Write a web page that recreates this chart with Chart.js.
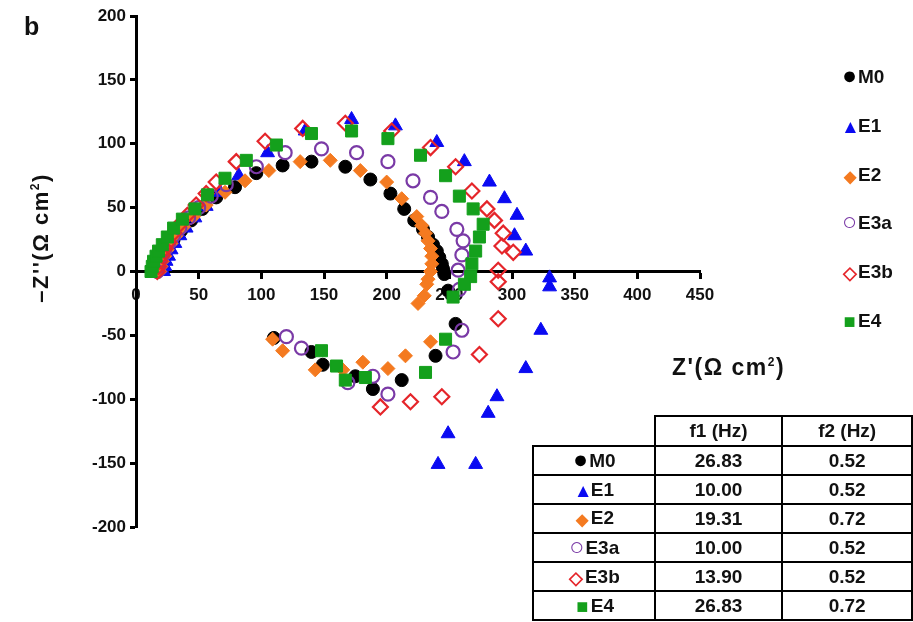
<!DOCTYPE html>
<html>
<head>
<meta charset="utf-8">
<script src="https://cdn.jsdelivr.net/npm/chart.js@4.4.1/dist/chart.umd.min.js"></script>
<style>
  body { margin: 0; background: #fff; font-family: "Liberation Sans", Arial, sans-serif; }
  #wrap { position: relative; width: 913px; height: 622px; overflow: hidden; }
  #wrap canvas { position: absolute; left: 0; top: 0; }
  .txt { position: absolute; font-weight: bold; color: #111; white-space: nowrap; }
  #panel { left: 24px; top: 12px; font-size: 25px; }
  #ytitle { left: 41px; top: 238px; font-size: 22px; letter-spacing: 1.5px; transform: translate(-50%, -50%) rotate(-90deg); }
  #xtitle { left: 672px; top: 354px; font-size: 23px; letter-spacing: 1.5px; }
  sup { font-size: 12px; vertical-align: 9px; }
  #legend { position: absolute; left: 841px; top: 64px; }
  #legend div { height: 48.8px; line-height: 26px; font-size: 19px; font-weight: bold; color: #111; }
  .mk { display: inline-block; width: 17px; text-align: center; line-height: 20px; vertical-align: -1px; }
  #freq { position: absolute; left: 532px; top: 415px; border-collapse: collapse; font-size: 19px; font-weight: bold; color: #111; }
  #freq td { border: 2px solid #000; text-align: center; height: 27px; padding: 0; }
  #freq td.c0 { width: 120px; }
  #freq td.c1 { width: 126px; }
  #freq td.c2 { width: 128px; }
  #freq tr.head td { height: 28px; }
  #freq tr.head td.blank { border-top: none; border-left: none; }
</style>
</head>
<body>
<div id="wrap">
  <canvas id="chart" width="913" height="622"></canvas>
  <div class="txt" id="panel">b</div>
  <div class="txt" id="ytitle">–Z''(Ω cm<sup>2</sup>)</div>
  <div class="txt" id="xtitle">Z'(Ω cm<sup>2</sup>)</div>
  <div id="legend"></div>
  <table id="freq"></table>
</div>
<script>
// Nyquist data: [Z', -Z''] in ohm cm2
const M0 = [[17,0],[18,3],[19,6],[21,10],[23,14],[26,19],[30,25],[36,32],[44,40],[53,49],[64,58],[79,66],[96,77],[117,83],[140,86],[167,82],[187,72],[203,61],[214,49],[222,40],[229,33],[233,27],[237,21],[240,16],[242,11],[244,6],[245,2],[246,-2],[249,-15],[255,-41],[239,-66],[212,-85],[189,-92],[175,-82],[149,-73],[140,-63],[110,-52]];
const E1 = [[22,0],[23,4],[24,8],[26,12],[28,17],[31,22],[35,28],[40,34],[47,42],[56,51],[67,62],[82,75],[105,93],[135,110],[172,119],[207,114],[240,101],[262,86],[282,70],[294,57],[304,44],[302,28],[311,16],[330,-5],[330,-12],[323,-46],[311,-76],[288,-98],[281,-111],[249,-127],[241,-151],[271,-151]];
const E2 = [[19,0],[20,4],[21,8],[23,12],[25,17],[28,22],[32,28],[38,35],[46,43],[56,52],[71,62],[87,71],[106,79],[131,86],[155,87],[179,79],[200,70],[212,57],[224,43],[228,36],[231,30],[233,24],[235,18],[236,12],[236,6],[235,0],[233,-6],[232,-10],[230,-19],[225,-25],[235,-55],[215,-66],[201,-76],[181,-71],[165,-77],[143,-77],[117,-62],[109,-53]];
const E3a = [[17,0],[18,4],[19,8],[21,12],[23,17],[26,22],[30,28],[35,34],[42,42],[50,50],[60,59],[72,68],[96,82],[119,93],[148,96],[176,93],[201,86],[221,71],[235,58],[244,47],[256,33],[261,24],[260,13],[257,1],[258,-14],[260,-46],[253,-63],[201,-96],[189,-82],[169,-87],[132,-60],[120,-51]];
const E3b = [[17,0],[18,4],[19,8],[21,13],[23,18],[26,23],[30,30],[35,37],[41,44],[48,52],[56,61],[64,70],[80,86],[103,102],[133,112],[167,116],[204,110],[235,97],[255,82],[268,63],[280,49],[286,40],[293,30],[292,20],[301,15],[289,1],[289,-8],[289,-37],[274,-65],[244,-98],[219,-102],[195,-106]];
const E4 = [[12,0],[13,4],[14,8],[16,12],[18,16],[21,21],[25,27],[30,34],[37,41],[47,49],[57,60],[71,73],[88,87],[112,99],[140,108],[172,110],[201,104],[227,91],[247,75],[258,59],[269,49],[277,37],[274,27],[271,16],[268,6],[267,-4],[262,-10],[253,-20],[247,-53],[231,-79],[183,-83],[167,-85],[160,-74],[148,-62]];

const seriesNames = ['M0', 'E1', 'E2', 'E3a', 'E3b', 'E4'];
const f1Hz = ['26.83', '10.00', '19.31', '10.00', '13.90', '26.83'];
const f2Hz = ['0.52', '0.52', '0.72', '0.52', '0.52', '0.72'];

const xMin = 0, xMax = 450, xStep = 50;
const yMin = -200, yMax = 200, yStep = 50;

// marker look per series (gs = glyph font size for legend/table)
const looks = [
  { data: M0,  style: 'circle',   r: 6.5, fill: '#000000',     line: '#000000', w: 1,   glyph: '●', gs: 25, color: '#000' },
  { data: E1,  style: 'triangle', r: 8,   fill: '#0a0af2',     line: '#0a0af2', w: 1,   glyph: '▲', gs: 19, color: '#0a0af2' },
  { data: E2,  style: 'rectRot',  r: 7,   fill: '#f47a20',     line: '#f47a20', w: 1,   glyph: '◆', gs: 16, color: '#f47a20' },
  { data: E3a, style: 'circle',   r: 6.5, fill: 'rgba(0,0,0,0)', line: '#7a3aa6', w: 2.2, glyph: '○', gs: 25, color: '#7a3aa6' },
  { data: E3b, style: 'rectRot',  r: 7.5, fill: 'rgba(0,0,0,0)', line: '#e5252a', w: 2.2, glyph: '◇', gs: 18, color: '#e5252a' },
  { data: E4,  style: 'rect',     r: 8.5, fill: '#14a01c',     line: '#14a01c', w: 1,   glyph: '■', gs: 20, color: '#14a01c' },
];

const datasets = looks.map((l, i) => ({
  label: seriesNames[i],
  data: l.data.map(p => ({ x: p[0], y: p[1] })),
  pointStyle: l.style,
  pointRadius: l.r,
  backgroundColor: l.fill,
  borderColor: l.line,
  borderWidth: l.w,
  showLine: false,
  order: looks.length - i,   // last series on top, like Excel
}));

const tickFont = { family: '"Liberation Sans", Arial, sans-serif', size: 17, weight: 'bold' };

new Chart(document.getElementById('chart'), {
  type: 'scatter',
  data: { datasets },
  options: {
    responsive: false,
    animation: false,
    layout: { padding: { left: 36, top: 16, right: 213, bottom: 95 } },
    plugins: { legend: { display: false }, tooltip: { enabled: false } },
    scales: {
      x: {
        type: 'linear',
        position: { y: 0 },
        min: xMin, max: xMax,
        ticks: { stepSize: xStep, color: '#111', font: tickFont, padding: 8, maxRotation: 0 },
        grid: { drawOnChartArea: false, drawTicks: true, tickLength: 6, tickWidth: 3, tickColor: '#000' },
        border: { display: true, color: '#000', width: 3 },
      },
      y: {
        type: 'linear',
        position: 'left',
        min: yMin, max: yMax,
        afterFit(s) { s.width = 100; },
        ticks: { stepSize: yStep, color: '#111', font: tickFont, padding: 4 },
        grid: { drawOnChartArea: false, drawTicks: true, tickLength: 6, tickWidth: 3, tickColor: '#000' },
        border: { display: true, color: '#000', width: 3 },
      },
    },
  },
});

function marker(i) {
  const l = looks[i];
  return `<span class="mk" style="color:${l.color};font-size:${l.gs}px">${l.glyph}</span>`;
}

// legend on the right
const legend = document.getElementById('legend');
seriesNames.forEach((n, i) => {
  const d = document.createElement('div');
  d.innerHTML = marker(i) + n;
  legend.appendChild(d);
});

// frequency table
const tbl = document.getElementById('freq');
tbl.innerHTML = `<tr class="head"><td class="c0 blank"></td><td class="c1">f1 (Hz)</td><td class="c2">f2 (Hz)</td></tr>` +
  seriesNames.map((n, i) =>
    `<tr><td class="c0">${marker(i)}${n}</td><td class="c1">${f1Hz[i]}</td><td class="c2">${f2Hz[i]}</td></tr>`
  ).join('');
</script>
</body>
</html>
